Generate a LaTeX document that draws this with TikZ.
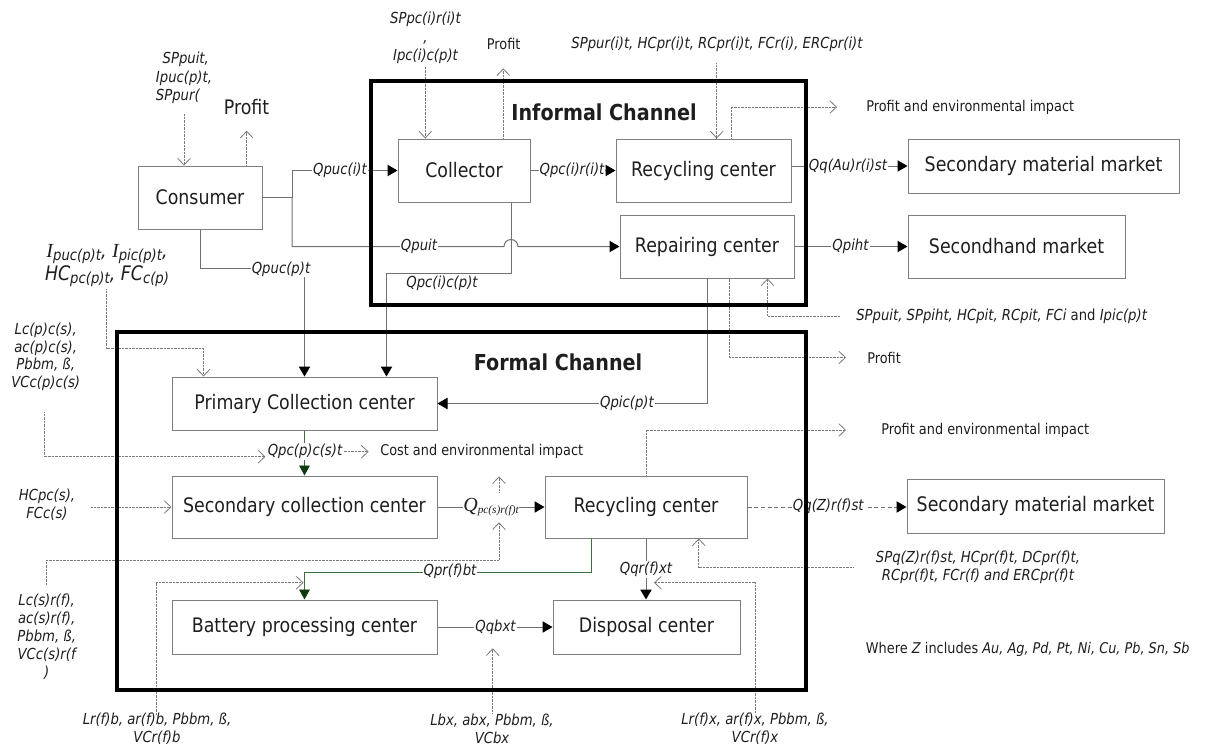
\documentclass[tikz,border=0pt]{standalone}
\usepackage{fontspec}
\setmainfont[FakeStretch=0.87]{DejaVu Sans}
\newfontfamily\qserif{Liberation Serif}
\usetikzlibrary{arrows.meta}

\definecolor{boxgray}{HTML}{7F7F7F}
\definecolor{linegray}{HTML}{707070}
\definecolor{dotgray}{HTML}{7A7A7A}
\definecolor{inkgray}{HTML}{1E1E1E}
\definecolor{flowgreen}{HTML}{3F6F3F}
\definecolor{tipgreen}{HTML}{0E3B0E}

\newcommand\boxfont{\fontsize{15}{18}\selectfont}
\newcommand\qfont{\fontsize{11.4}{13.7}\selectfont\itshape}
\newcommand\notefont{\fontsize{11.1}{13.5}\selectfont}
\newcommand\chanfont{\fontsize{16.5}{20}\selectfont\bfseries}
\newcommand\bigsub[2]{#1\raisebox{-2pt}{\fontsize{11.4}{13}\selectfont #2}}
\newcommand\serifQ[1]{{\qserif\itshape\fontsize{15}{15}\selectfont Q\raisebox{-1.5pt}{\fontsize{8.5}{10}\selectfont #1}}}

\begin{document}
\begin{tikzpicture}[x=0.75pt,y=-0.75pt,
  every node/.style={text=inkgray},
  blk/.style={draw=boxgray, line width=0.75pt, inner sep=0pt, font=\boxfont},
  chan/.style={draw=black, line width=2.3pt, inner sep=0pt},
  flow/.style={draw=linegray, line width=0.75pt},
  farr/.style={flow, -{Triangle[length=7.5pt,width=8.5pt,color=black]}},
  garr/.style={draw=flowgreen, line width=0.6pt, -{Triangle[length=7.5pt,width=8pt,color=tipgreen]}},
  dsharr/.style={flow, dash pattern=on 3pt off 2pt, -{Triangle[length=7.5pt,width=8.5pt,color=black]}},
  dot/.style={draw=dotgray, line width=0.7pt, dash pattern=on 0.6pt off 0.45pt},
  darr/.style={dot, -{Straight Barb[length=5pt,width=9.5pt,line width=0.6pt]}},
  qlbl/.style={font=\qfont, fill=white, inner sep=0.8pt},
  qtxt/.style={font=\qfont, inner sep=0pt},
  note/.style={font=\notefont, inner sep=0pt},
]
\useasboundingbox (0,0) rectangle (1207,747);

% ---------- process boxes ----------
\node[blk, minimum width=93pt,     minimum height=47.25pt] (cons) at (200,197.5) {Consumer};
\node[blk, minimum width=99pt,     minimum height=47.25pt] (coll) at (464,170.5) {Collector};
\node[blk, minimum width=131.25pt, minimum height=47.25pt] (rci)  at (703.5,170.5) {Recycling center};
\node[blk, minimum width=130.5pt,  minimum height=47.25pt] (rep)  at (707,246.5) {Repairing center};
\node[blk, minimum width=203.25pt, minimum height=40.5pt]  (smmi) at (1043.5,166) {Secondary material market};
\node[blk, minimum width=162.75pt, minimum height=47.25pt] (shm)  at (1016.5,246.5) {Secondhand market};
\node[blk, minimum width=198.75pt, minimum height=39.75pt] (pcc)  at (304.5,403.5) {Primary Collection center};
\node[blk, minimum width=198.75pt, minimum height=46.5pt]  (scc)  at (304.5,507) {Secondary collection center};
\node[blk, minimum width=151.5pt,  minimum height=46.5pt]  (rcf)  at (646,507) {Recycling center};
\node[blk, minimum width=198.75pt, minimum height=40.5pt]  (bpc)  at (304.5,627) {Battery processing center};
\node[blk, minimum width=140.25pt, minimum height=40.5pt]  (dis)  at (646.5,627) {Disposal center};
\node[blk, minimum width=192.75pt, minimum height=40.5pt]  (smmf) at (1035.5,506) {Secondary material market};

% ---------- channel titles ----------
\node[font=\chanfont, inner sep=0pt] (tinf) at (604,112) {Informal Channel};
\node[font=\chanfont, inner sep=0pt] (tform) at (558,362) {Formal Channel};

% ---------- parameter and outcome texts ----------
\node[qtxt, align=left] (tcons) at (184,78) {\hspace*{5pt}SPpuit,\\Ipuc(p)t,\\SPpur(};
\node[note, font=\boxfont] (pcons) at (246.5,107) {Profit};
\node[qtxt, align=center, font=\fontsize{11.4}{13.7}\selectfont\itshape] (tcoll) at (425.5,38) {SPpc(i)r(i)t\\,\\Ipc(i)c(p)t};
\node[note] (pcol) at (503.7,44) {Profit};
\node[qtxt] (trci) at (717,44.3) {SPpur(i)t, HCpr(i)t, RCpr(i)t, FCr(i), ERCpr(i)t};
\node[note, anchor=west] (pei1) at (866,107) {Profit and environmental impact};
\node[qtxt, anchor=west] (trep) at (856,316) {SPpuit, SPpiht, HCpit, RCpit, FCi {\upshape and} Ipic(p)t};
\node[note, anchor=west] (prep) at (867,357.5) {Profit};
\node[note, anchor=west] (pei2) at (881,430) {Profit and environmental impact};
\node[inner sep=0pt, align=center, font=\fontsize{15}{17}\selectfont\itshape] (tipuc) at (107,265.5)
  {\bigsub{{\qserif I}}{puc(p)t}, \bigsub{{\qserif I}}{pic(p)t},\\\bigsub{HC}{pc(p)t}, \bigsub{FC}{c(p)}};
\node[qtxt, align=center, font=\fontsize{11.4}{13.3}\selectfont\itshape] (tpcc) at (45.7,356.7) {Lc(p)c(s),\\ac(p)c(s),\\Pbbm, ß,\\VCc(p)c(s)};
\node[qtxt, align=center, font=\fontsize{11.4}{13.7}\selectfont\itshape] (tscc) at (47,505) {HCpc(s),\\FCc(s)};
\node[note, anchor=west] (tcost) at (380,451.7) {Cost and environmental impact};
\node[qtxt, align=center, font=\fontsize{11.4}{13.5}\selectfont\itshape] (tlcs) at (46.7,636.7) {Lc(s)r(f),\\ac(s)r(f),\\Pbbm, ß,\\VCc(s)r(f\\)};
\node[qtxt, align=center, font=\fontsize{11.4}{13.7}\selectfont\itshape] (tbpc) at (157,729) {Lr(f)b, ar(f)b, Pbbm, ß,\\VCr(f)b};
\node[qtxt, align=center, font=\fontsize{11.4}{13.7}\selectfont\itshape] (tlbx) at (492,729) {Lbx, abx, Pbbm, ß,\\VCbx};
\node[qtxt, align=center, font=\fontsize{11.4}{13.7}\selectfont\itshape] (tlrx) at (755,729) {Lr(f)x, ar(f)x, Pbbm, ß,\\VCr(f)x};
\node[qtxt, align=center, font=\fontsize{11.4}{13.8}\selectfont\itshape] (trcf) at (978,567.5) {SPq(Z)r(f)st, HCpr(f)t, DCpr(f)t,\\RCpr(f)t, FCr(f) and ERCpr(f)t};
\node[note, anchor=west] (twhere) at (865.7,649.3) {Where \textit{Z} includes \textit{Au, Ag, Pd, Pt, Ni, Cu, Pb, Sn, Sb}};

% ---------- consumer flows ----------
\coordinate (j1) at (292,197.5);
\draw[flow] (cons.east) -- (j1);
\draw[farr] (j1) |- (coll.west);
\draw[farr] (j1) |- (504,246.5) arc[start angle=180,end angle=360,radius=7] -- (rep.west);
\draw[farr] (cons.south) |- ([shift={(0,-108)}]pcc.north) -- (pcc.north);
\coordinate (in1) at (184,114);
\draw[darr] (in1) -- (in1 |- cons.north);
\coordinate (out1) at (246.7,130.7);
\draw[darr] (out1 |- cons.north) -- (out1);

% ---------- informal channel flows ----------
\draw[farr] (coll.east) -- (rci.west);
\draw[farr] ([shift={(-19,0)}]coll.south east) -- ++(0,71.3) -| ([shift={(215,0)}]pcc.north west);
\draw[farr] (rci.east |- smmi.west) -- (smmi.west);
\draw[farr] (rep.east) -- (shm.west);
\draw[farr] (rep.south) |- (pcc.east);
\coordinate (in2) at (425.3,66.7);
\draw[darr] (in2) -- (in2 |- coll.north);
\coordinate (out2) at (503.3,68.3);
\draw[darr] (out2 |- coll.north) -- (out2);
\coordinate (in3) at (716.7,63.3);
\draw[darr] (in3) -- (in3 |- rci.north);
\draw[darr] ([shift={(-60,0)}]rci.north east) |- ([shift={(-29,0)}]pei1.west);
\draw[darr] ([shift={(-16,0)}]trep.west) -| ([shift={(-27,0)}]rep.south east);
\draw[darr] ([shift={(-65,0)}]rep.south east) |- ([shift={(-21,0)}]prep.west);

% ---------- formal channel flows ----------
\draw[garr] (pcc.south) -- (scc.north);
\draw[farr] (scc.east) -- (rcf.west);
\draw[garr] ([shift={(47,0)}]rcf.south west) -- ++(0,33.7) -| (bpc.north);
\draw[farr] (bpc.east) -- (dis.west);
\draw[farr] (rcf.south) -- (rcf.south |- dis.north);
\draw[dsharr] (rcf.east) -- (rcf.east -| smmf.west);
\draw[darr] (rcf.north) |- ([shift={(-35,0)}]pei2.west);

% ---------- flow labels ----------
\node[qlbl] (lqpucit) at (340,170.5) {Qpuc(i)t};
\node[qlbl] (lqpuit) at (419,246.5) {Qpuit};
\node[qlbl, inner sep=0.3pt] (lqpcri) at (572,170.5) {Qpc(i)r(i)t};
\node[qtxt] (lqpcicp) at (442,283) {Qpc(i)c(p)t};
\node[qlbl] (lqpucp) at (281,269) {Qpuc(p)t};
\node[qlbl] (lqpic) at (627,403.5) {Qpic(p)t};
\node[qlbl] (lqpiht) at (850.5,246.5) {Qpiht};
\node[qlbl] (lqqau) at (848,166) {Qq(Au)r(i)st};
\node[qlbl] (lqpccs) at (305,451.7) {Qpc(p)c(s)t};
\node[qlbl, inner sep=0.5pt] (lqpcsrf) at (491,507) {\serifQ{pc(s)r(f)t}};
\node[qlbl] (lqprfbt) at (450,571.7) {Qpr(f)bt};
\node[qlbl] (lqqbxt) at (495.5,627) {Qqbxt};
\node[qlbl] (lqqrfxt) at (646,569.3) {Qqr(f)xt};
\node[qlbl] (lqqz) at (828.3,506) {Qq(Z)r(f)st};

% ---------- parameter inputs and outcome arrows of the formal channel ----------
\draw[darr] (lqpccs.east) -- ++(25,0);
\coordinate (in5) at (44.3,412.3);
\draw[darr] (in5) |- ([shift={(-1,5)}]lqpccs.west);
\coordinate (in6) at (106.7,289.3);
\draw[darr] (in6) |- ([shift={(32,-28)}]pcc.north west) -- ([shift={(32,0)}]pcc.north west);
\coordinate (in7) at (91,507);
\draw[darr] (in7) -- (scc.west);
\coordinate (up1) at (499,492.3);
\draw[darr] (up1) -- ([shift={(0,-16)}]up1);
\coordinate (in8) at (46.7,585);
\coordinate (in8e) at (499,522.3);
\draw[darr] (in8) |- ([shift={(0,38)}]in8e) -- (in8e);
\coordinate (in9) at (156.7,715);
\coordinate (in9e) at (303.5,582.7);
\draw[darr] (in9) |- (in9e);
\coordinate (in10) at (492.7,713.3);
\draw[darr] (in10) -- ([shift={(0,-65)}]in10);
\coordinate (in11) at (755,713);
\coordinate (in11e) at (654,582.7);
\draw[darr] (in11) |- (in11e);
\coordinate (in12) at (853.3,567.3);
\draw[darr] (in12) -| ([shift={(-48.7,0)}]rcf.south east);

% ---------- channel frames ----------
\node[chan, minimum width=326.25pt, minimum height=168pt] (infch) at (588.5,193) {};
\node[chan, minimum width=516.75pt, minimum height=268.5pt] (formch) at (461.5,511) {};
\end{tikzpicture}
\end{document}
